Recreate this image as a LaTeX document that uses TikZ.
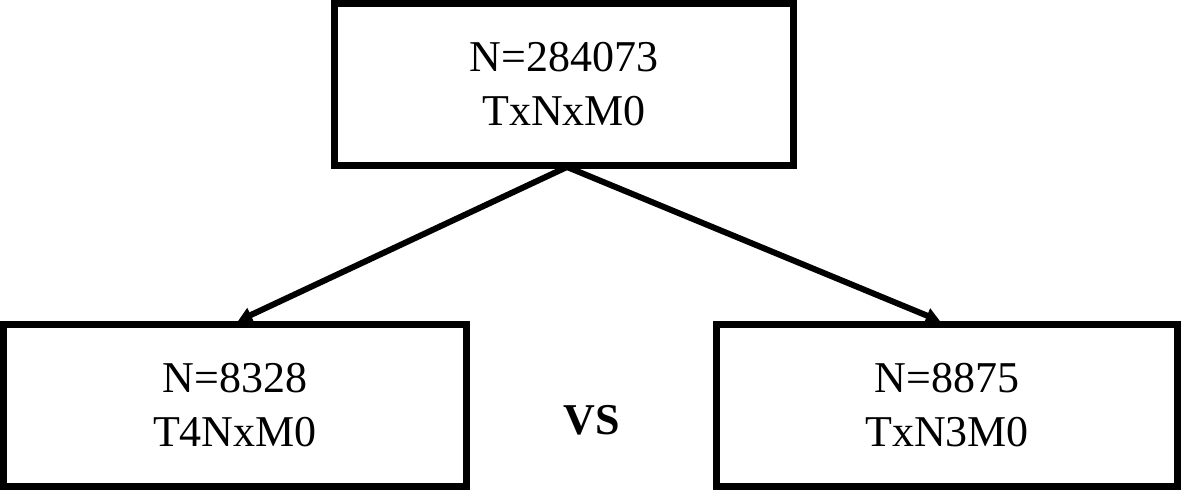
\documentclass[tikz,border=0pt]{standalone}
\usepackage{fontspec}
\setmainfont{Liberation Serif}
\usetikzlibrary{arrows.meta,calc}
\tikzset{
  boxnode/.style={draw=black, line width=3.5pt, rectangle, inner sep=0pt, align=center,
    font=\fontsize{22}{27}\selectfont, minimum height=81pt},
  linkarrow/.style={line width=3pt, -{Triangle[length=7pt,width=7.5pt]}},
  vslabel/.style={font=\fontsize{22}{27}\selectfont\bfseries, inner sep=0pt}
}
\begin{document}
\begin{tikzpicture}[x=0.5pt,y=-0.5pt]
  \useasboundingbox[fill=white] (0,0) rectangle (1181,490);
  \node[boxnode, minimum width=229.5pt] (top) at (564,84.5) {N=284073\\TxNxM0};
  \node[boxnode, minimum width=231.5pt] (lbox) at (235,405.5) {N=8328\\T4NxM0};
  \node[boxnode, minimum width=230.5pt] (rbox) at (947,405.5) {N=8875\\TxN3M0};
  \node[vslabel] (vs) at (592,420) {VS};
  \draw[linkarrow] ($(top.south)+(3,-2)$) -- ($(lbox.north)+(3,0)$);
  \draw[linkarrow] ($(top.south)+(3,-2)$) -- ($(rbox.north)+(-7,0)$);
\end{tikzpicture}
\end{document}
